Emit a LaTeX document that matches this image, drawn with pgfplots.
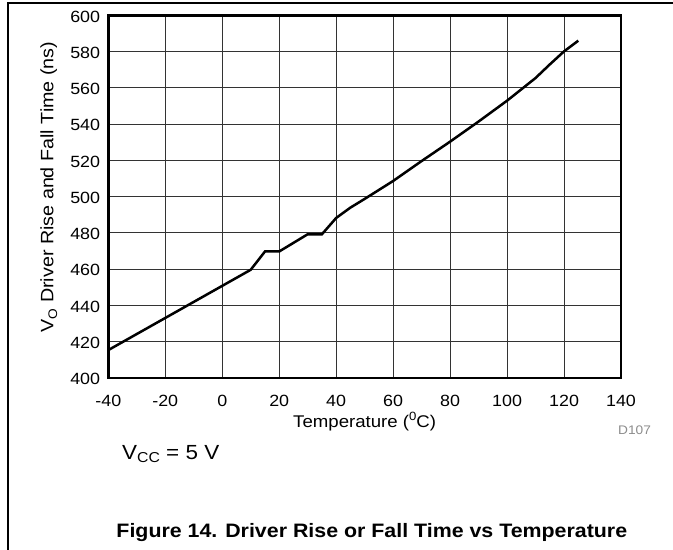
\documentclass[border=0pt]{standalone}
\usepackage{fontspec}
\setmainfont{Liberation Sans}[FakeStretch=1.1]
\usepackage{pgfplots}
\pgfplotsset{compat=1.18}

\begin{document}
\begin{tikzpicture}[x=1bp,y=1bp]
\path[use as bounding box] (0,0) rectangle (673,550);
\draw[line width=1.2bp] (8,0) -- (8,547) -- (673,547);
\begin{axis}[
    at={(108.3bp,172bp)}, anchor=south west,
    scale only axis, width=512.7bp, height=362.5bp,
    xmin=-40, xmax=140, ymin=400, ymax=600,
    xtick={-40,-20,...,140}, ytick={400,420,...,600},
    grid=major,
    major grid style={black!80, line width=1bp},
    axis line style={line width=2.6bp},
    major tick length=0pt,
    /pgf/number format/assume math mode=true,
    tick label style={font=\fontsize{16.3}{16.3}\selectfont},
    xticklabel style={anchor=base, yshift=-29bp},
    yticklabel style={anchor=east, inner sep=0pt, xshift=-8bp, yshift=-1bp},
    xlabel={Temperature (\raisebox{0.42em}{\fontsize{12}{12}\selectfont 0}C)},
    xlabel style={at={(axis description cs:0.5,0)}, anchor=base, yshift=-49.3bp,
        font=\fontsize{17}{17}\selectfont},
    ylabel={V\raisebox{-0.22em}{\fontsize{12.5}{12.5}\selectfont O} Driver Rise and Fall Time (ns)},
    ylabel style={at={(axis description cs:-0.1073,0.527)}, anchor=base,
        font=\fontsize{18}{18}\selectfont},
]
\addplot[black, line width=2.5bp] coordinates {
    (-40,415.4) (10,459.7) (15,469.8) (20,469.8) (30,479.3) (35,479.3)
    (40,488.3) (45,494) (50,498.8) (60,508.7) (70,519.7) (80,530.4)
    (90,541.5) (100,553) (110,565.5) (115,573) (120,580.2) (125,586.1)
};
\end{axis}
\node[anchor=base west, inner sep=0pt, text=black!45, font=\fontsize{12.5}{12.5}\selectfont]
    at (618,115) {D107};
\node[anchor=base west, inner sep=0pt, font=\fontsize{20.5}{20.5}\selectfont]
    at (122,90.7) {V\raisebox{-0.17em}{\fontsize{14.4}{14.4}\selectfont CC} = 5 V};
\node[anchor=base, inner sep=0pt, font=\bfseries\fontsize{19.5}{19.5}\selectfont]
    at (371.8,12.7) {Figure 14. Driver Rise or Fall Time vs Temperature};
\end{tikzpicture}
\end{document}
